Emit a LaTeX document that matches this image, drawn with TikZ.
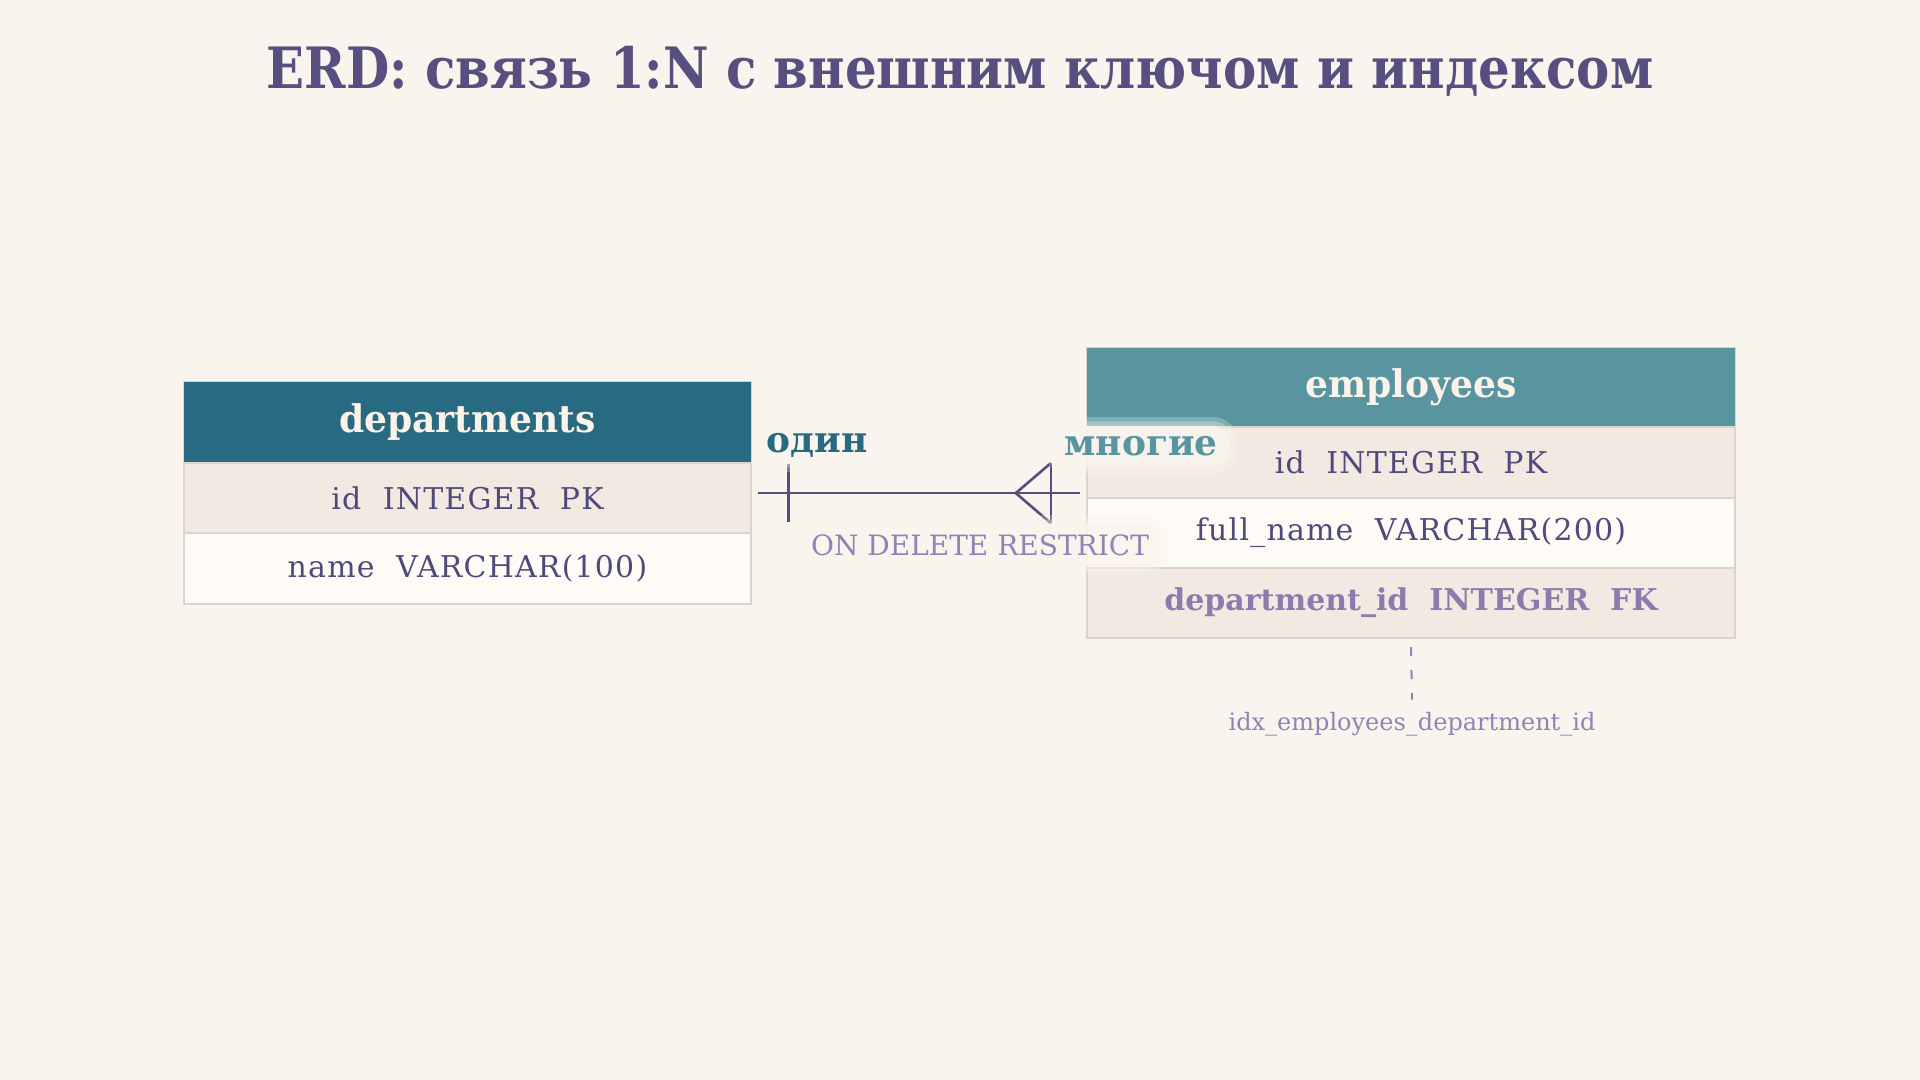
\documentclass[tikz,border=0pt]{standalone}
\usepackage{fontspec}
\setmainfont{DejaVu Serif}
\newfontfamily\titlefont[FakeStretch=0.875]{DejaVu Serif}
\newfontfamily\hdrfont[FakeStretch=0.95]{DejaVu Serif}
\newfontfamily\rowfont[LetterSpace=4]{DejaVu Serif}
\usetikzlibrary{fit,calc}
\definecolor{bgc}{HTML}{FAF4EE}
\definecolor{titlec}{HTML}{574F7F}
\definecolor{depthead}{HTML}{286A82}
\definecolor{emphead}{HTML}{5995A0}
\definecolor{hdrtext}{HTML}{FBF3E8}
\definecolor{rowa}{HTML}{F2EAE2}
\definecolor{rowb}{HTML}{FEFAF5}
\definecolor{borderc}{HTML}{DBD3CE}
\definecolor{textc}{HTML}{504A7A}
\definecolor{fkc}{HTML}{8E7BAE}
\definecolor{relc}{HTML}{574E7E}
\definecolor{restrc}{HTML}{9482B4}
\definecolor{halofill}{HTML}{FAF5EF}
\begin{document}
\begin{tikzpicture}[x=0.5pt,y=-0.5pt,
  cell/.style={draw=borderc, line width=0.6pt, inner sep=0pt,
    font=\rowfont\fontsize{15}{18}\selectfont, text=textc},
  hdr/.style={inner sep=0pt, font=\hdrfont\bfseries\fontsize{19}{22}\selectfont, text=hdrtext},
  deptw/.style={minimum width=283.5pt},
  empw/.style={minimum width=324pt},
  tbl/.style={inner sep=0pt, draw=borderc, line width=0.6pt},
  rel/.style={draw=relc, line width=1.3pt},
  halo/.style={
    preaction={fill=halofill, fill opacity=0.25, draw=halofill, draw opacity=0.25, line width=9pt},
    preaction={fill=halofill, fill opacity=0.3, draw=halofill, draw opacity=0.3, line width=4.5pt},
    fill=halofill, fill opacity=0.7, text opacity=1,
    rounded corners=9pt, inner xsep=6pt, inner ysep=5pt, anchor=base},
  lbl/.style={font=\bfseries\fontsize{18}{22}\selectfont}
]
\fill[bgc] (0,0) rectangle (1920,1080);
\useasboundingbox (0,0) rectangle (1920,1080);

\node[font=\titlefont\bfseries\fontsize{28.5}{34}\selectfont, text=titlec, anchor=base] (title)
  at (960,89) {ERD: связь 1:N с внешним ключом и индексом};

% departments
\node[hdr, deptw, fill=depthead, minimum height=40.5pt] (dh) at (467.5,422.5) {departments};
\node[cell, deptw, fill=rowa, minimum height=35pt] (d1) at (467.5,498) {id\ \ INTEGER\ \ PK};
\node[cell, deptw, fill=rowb, minimum height=35.5pt] (d2) at (467.5,568.5) {name\ \ VARCHAR(100)};
\node[tbl, fit=(dh)(d2)] (dept) {};

% employees
\node[hdr, empw, fill=emphead, minimum height=39.5pt] (eh) at (1411,387.5) {employees};
\node[cell, empw, fill=rowa, minimum height=35.5pt] (e1) at (1411,462.5) {id\ \ INTEGER\ \ PK};
\node[cell, empw, fill=rowb, minimum height=35pt] (e2) at (1411,533) {full\_name\ \ VARCHAR(200)};
\node[cell, empw, fill=rowa, minimum height=35pt, text=fkc,
  font=\bfseries\fontsize{15}{18}\selectfont] (e3) at (1411,603) {department\_id\ \ INTEGER\ \ FK};
\node[tbl, fit=(eh)(e3)] (emp) {};

% relationship
\draw[rel] ([xshift=3pt]dept.east) -- ([xshift=-3pt]emp.west);
\draw[rel] ([xshift=18pt,yshift=14.5pt]dept.east) -- ([xshift=18pt,yshift=-14.5pt]dept.east);
\draw[rel] ([xshift=-17.5pt,yshift=15pt]emp.west) -- ([xshift=-35pt]emp.west)
  -- ([xshift=-17.5pt,yshift=-15pt]emp.west);
\draw[rel] ([xshift=-17.5pt,yshift=15pt]emp.west) -- ([xshift=-17.5pt,yshift=-15pt]emp.west);

\node[halo, lbl, text=depthead, inner xsep=1pt, inner ysep=3pt] (one) at (817,452) {один};
\node[halo, lbl, text=emphead] (many) at (1141,455) {многие};
\node[halo, font=\fontsize{14}{18}\selectfont, text=restrc] (restr) at (980,555) {ON DELETE RESTRICT};

% index
\node[font=\fontsize{12}{14}\selectfont, text=restrc, inner sep=2pt] (idx) at (1412,724) {idx\_employees\_department\_id};
\draw[draw=restrc, line width=1pt, dash pattern=on 4.5pt off 7pt]
  ([yshift=-4pt]emp.south) -- ([yshift=4pt]idx.north);
\end{tikzpicture}
\end{document}
